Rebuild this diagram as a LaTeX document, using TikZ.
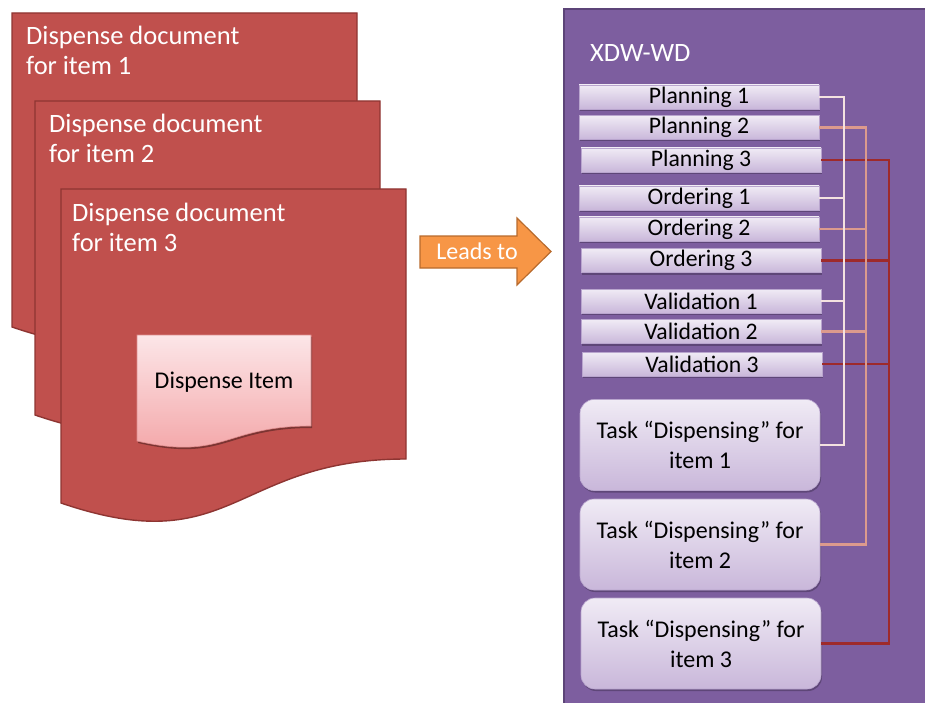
\documentclass[tikz,border=0pt]{standalone}
\usepackage{fontspec}
\setmainfont{Carlito}
\usetikzlibrary{shadows}
\definecolor{docfill}{HTML}{C0504D}
\definecolor{docline}{HTML}{8E3532}
\definecolor{itemtop}{HTML}{FCE6E8}
\definecolor{itembot}{HTML}{F3A2A4}
\definecolor{panelfill}{HTML}{7D5E9F}
\definecolor{panelline}{HTML}{5C4478}
\definecolor{bartop}{HTML}{F0EBF5}
\definecolor{barbot}{HTML}{C9B7DA}
\definecolor{barline}{HTML}{B9A5CE}
\definecolor{cone}{HTML}{F4E2E0}
\definecolor{ctwo}{HTML}{DC9A8D}
\definecolor{cthree}{HTML}{9E2A2B}
\definecolor{arrowfill}{HTML}{F79646}
\definecolor{arrowline}{HTML}{B86A2C}
\tikzset{
  docshape/.style={fill=docfill, draw=docline, line width=1.4pt, line join=miter},
  doctext/.style={text=white, anchor=north west, inner sep=0pt, align=left, font=\fontsize{26.5}{30}\selectfont},
  bar/.style={draw=barline, line width=0.6pt, top color=bartop, bottom color=barbot, minimum width=240pt, minimum height=24pt, inner sep=0pt, font=\fontsize{23.7}{24}\selectfont, text=black,
    drop shadow={shadow xshift=1pt, shadow yshift=-2pt, opacity=0.35, fill=black!70!panelfill}},
  task/.style={bar, rounded corners=14pt, minimum height=91pt, align=center, font=\fontsize{24}{30}\selectfont},
  link/.style={line width=2.2pt},
}
\begin{document}
\begin{tikzpicture}[x=1pt, y=-1pt]
\useasboundingbox (0,0) rectangle (925,703);
\clip (0,0) rectangle (925,703);
% documents
\foreach \dx/\dy in {12/13, 35/101, 61/189}{
  \path[docshape, shift={(\dx,\dy)}] (0,0) -- (345,0) -- (345,270) .. controls (172.5,270) and (172.5,373) .. (0,314) -- cycle;
}
\node[doctext] (d1) at (26,26) {Dispense document\\for item 1};
\node[doctext] (d2) at (49,114) {Dispense document\\for item 2};
\node[doctext] (d3) at (72,203) {Dispense document\\for item 3};
% dispense item
\path[top color=itemtop, bottom color=itembot, draw=itembot!80!docline, line width=0.6pt,
  drop shadow={shadow xshift=1pt, shadow yshift=-2pt, opacity=0.35, fill=black}]
  (137,335) -- (311,335) -- (311,426) .. controls (224,426) and (224,461) .. (137,441) -- cycle;
\node[font=\fontsize{24}{26}\selectfont, text=black] (item) at (224,382) {Dispense Item};
% arrow
\path[fill=arrowfill, draw=arrowline, line width=1.2pt, line join=miter]
  (420,236) -- (517,236) -- (517,218) -- (551,251.5) -- (517,285) -- (517,268) -- (420,268) -- cycle;
\node[text=white, font=\fontsize{24}{26}\selectfont] (leads) at (477,251) {Leads to};
% panel
\path[fill=panelfill, draw=panelline, line width=1.4pt] (564,9) rectangle (940,720);
\node[text=white, anchor=base west, inner sep=0pt, font=\fontsize{26.5}{28}\selectfont] (xdw) at (590,62) {XDW-WD};
% bars
\node[bar] (p1) at (699,97) {Planning 1};
\node[bar] (p2) at (699,127.5) {Planning 2};
\node[bar] (p3) at (701,160) {Planning 3};
\node[bar] (o1) at (699,198) {Ordering 1};
\node[bar] (o2) at (699,229) {Ordering 2};
\node[bar] (o3) at (701,260.5) {Ordering 3};
\node[bar] (v1) at (701,301) {Validation 1};
\node[bar] (v2) at (701,331.5) {Validation 2};
\node[bar] (v3) at (702,364) {Validation 3};
\node[task] (t1) at (700,445) {Task “Dispensing” for\\item 1};
\node[task] (t2) at (700,544.5) {Task “Dispensing” for\\item 2};
\node[task] (t3) at (701,643.5) {Task “Dispensing” for\\item 3};
% connectors
\coordinate (j1) at (844,445);
\coordinate (j2) at (866,544.5);
\coordinate (j3) at (889,643.5);
\draw[link, draw=cthree] (p3.east) -| (j3) -- (t3.east);
\draw[link, draw=cthree] (o3.east) -- (o3.east -| j3);
\draw[link, draw=cthree] (v3.east) -- (v3.east -| j3);
\draw[link, draw=ctwo] (p2.east) -| (j2) -- (t2.east);
\draw[link, draw=ctwo] (o2.east) -- (o2.east -| j2);
\draw[link, draw=ctwo] (v2.east) -- (v2.east -| j2);
\draw[link, draw=cone] (p1.east) -| (j1) -- (t1.east);
\draw[link, draw=cone] (o1.east) -- (o1.east -| j1);
\draw[link, draw=cone] (v1.east) -- (v1.east -| j1);
\end{tikzpicture}
\end{document}
